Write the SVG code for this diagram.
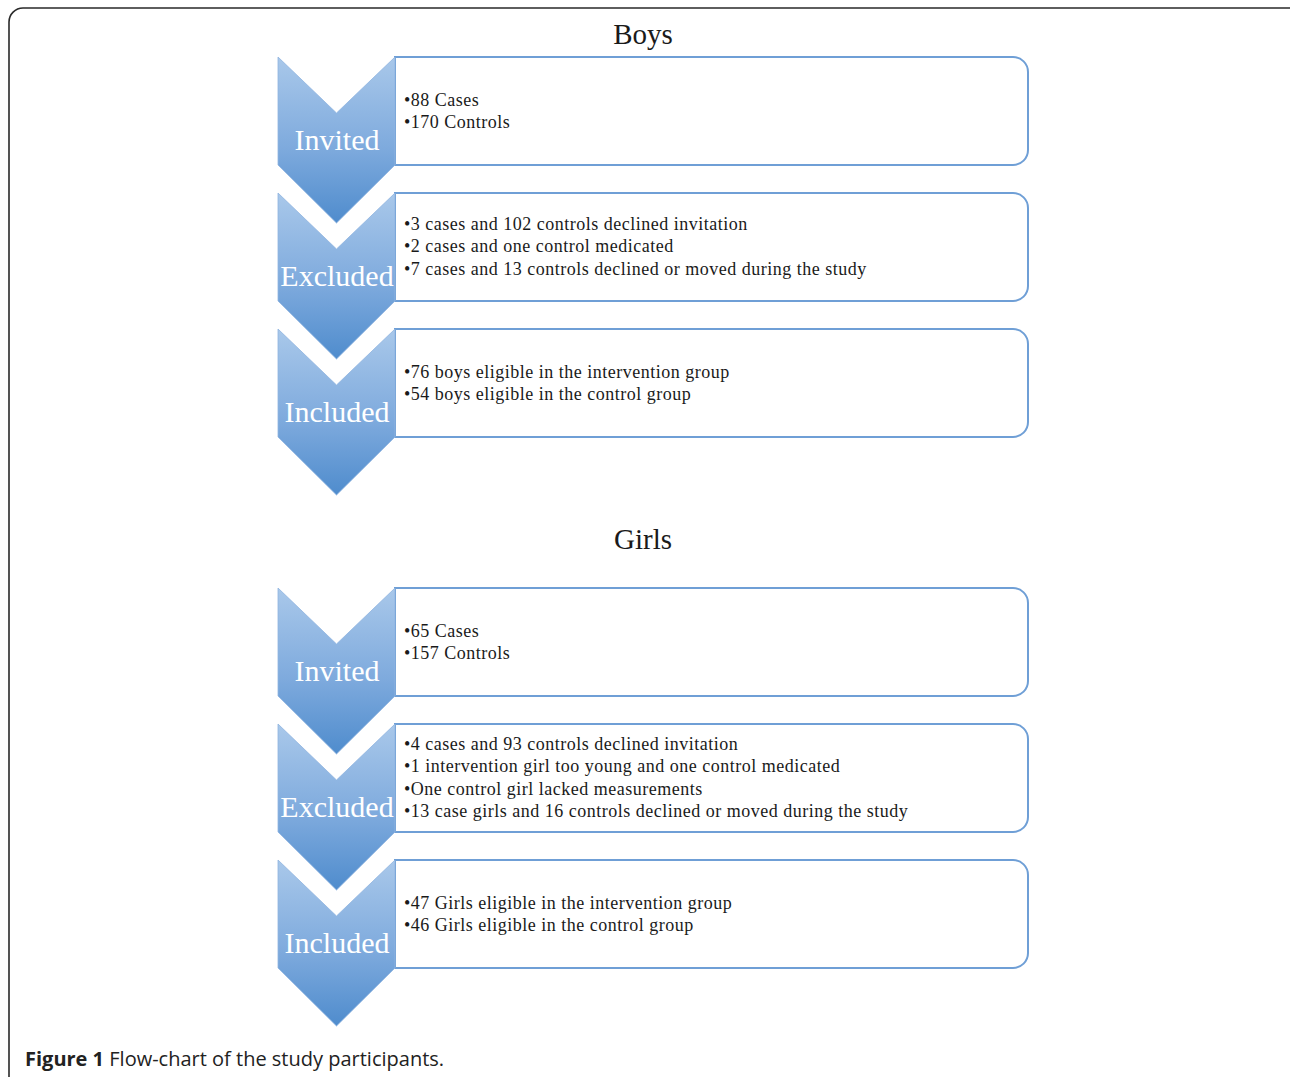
<svg xmlns="http://www.w3.org/2000/svg" width="1290" height="1077" viewBox="0 0 1290 1077">
<defs>
<linearGradient id="chev" x1="0" y1="0" x2="0" y2="1">
<stop offset="0" stop-color="#a9c8ea"/>
<stop offset="0.55" stop-color="#7eaadd"/>
<stop offset="1" stop-color="#4f8ccd"/>
</linearGradient>
<path id="chevShape" d="M278,0 L336.5,56 L395,0 L395,108 L336.5,166 L278,108 Z"/>
<path id="boxShape" d="M395,0 H1013 A15,15 0 0 1 1028,15 V93 A15,15 0 0 1 1013,108 H395 Z"/>
</defs>
<style>
.frame{fill:none;stroke:#2a2a2a;stroke-width:1.6}
.chev{fill:url(#chev);stroke:#8fb4e0;stroke-width:0.8}
.box{fill:#ffffff;stroke:#6f9fd6;stroke-width:2}
.lbl{font-family:"Liberation Serif","DejaVu Serif",serif;font-size:30px;fill:#ffffff;text-anchor:middle}
.txt{font-family:"Liberation Serif","DejaVu Serif",serif;font-size:18px;letter-spacing:0.5px;fill:#1a1a1a}
.title{font-family:"Liberation Serif","DejaVu Serif",serif;font-size:29px;fill:#1a1a1a;text-anchor:middle}
.cap{font-family:"Open Sans","Liberation Sans",sans-serif;font-size:20px;fill:#222222}
</style>
<rect id="frame" class="frame" x="9" y="8" width="1300" height="1100" rx="14"/>
<text class="title" x="643" y="44">Boys</text>
<g id="boys-invited" transform="translate(0,57)">
<use href="#boxShape" class="box"/>
<use href="#chevShape" class="chev"/>
<text class="lbl" x="337" y="93">Invited</text>
<text class="txt" x="404" y="49">•88 Cases</text>
<text class="txt" x="404" y="71">•170 Controls</text>
</g>
<g id="boys-excluded" transform="translate(0,193)">
<use href="#boxShape" class="box"/>
<use href="#chevShape" class="chev"/>
<text class="lbl" x="337" y="93">Excluded</text>
<text class="txt" x="404" y="37">•3 cases and 102 controls declined invitation</text>
<text class="txt" x="404" y="59">•2 cases and one control medicated</text>
<text class="txt" x="404" y="82">•7 cases and 13 controls declined or moved during the study</text>
</g>
<g id="boys-included" transform="translate(0,329)">
<use href="#boxShape" class="box"/>
<use href="#chevShape" class="chev"/>
<text class="lbl" x="337" y="93">Included</text>
<text class="txt" x="404" y="49">•76 boys eligible in the intervention group</text>
<text class="txt" x="404" y="71">•54 boys eligible in the control group</text>
</g>
<text class="title" x="643" y="549">Girls</text>
<g id="girls-invited" transform="translate(0,588)">
<use href="#boxShape" class="box"/>
<use href="#chevShape" class="chev"/>
<text class="lbl" x="337" y="93">Invited</text>
<text class="txt" x="404" y="49">•65 Cases</text>
<text class="txt" x="404" y="71">•157 Controls</text>
</g>
<g id="girls-excluded" transform="translate(0,724)">
<use href="#boxShape" class="box"/>
<use href="#chevShape" class="chev"/>
<text class="lbl" x="337" y="93">Excluded</text>
<text class="txt" x="404" y="26">•4 cases and 93 controls declined invitation</text>
<text class="txt" x="404" y="48">•1 intervention girl too young and one control medicated</text>
<text class="txt" x="404" y="71">•One control girl lacked measurements</text>
<text class="txt" x="404" y="93">•13 case girls and 16 controls declined or moved during the study</text>
</g>
<g id="girls-included" transform="translate(0,860)">
<use href="#boxShape" class="box"/>
<use href="#chevShape" class="chev"/>
<text class="lbl" x="337" y="93">Included</text>
<text class="txt" x="404" y="49">•47 Girls eligible in the intervention group</text>
<text class="txt" x="404" y="71">•46 Girls eligible in the control group</text>
</g>
<g id="connectors"/>
<text class="cap" x="25" y="1066"><tspan font-weight="bold">Figure 1</tspan> Flow-chart of the study participants.</text>
</svg>
